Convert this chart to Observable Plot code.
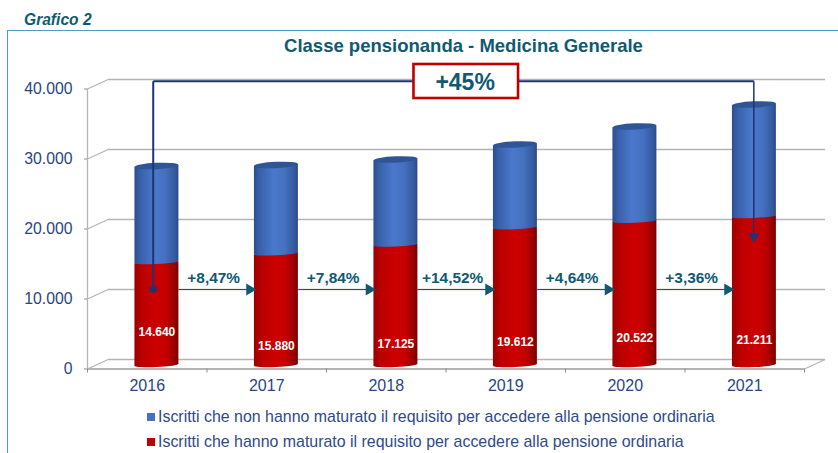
<!DOCTYPE html>
<html lang="it">
<head>
<meta charset="utf-8">
<script src="https://cdn.jsdelivr.net/npm/d3@7"></script>
<script src="https://cdn.jsdelivr.net/npm/@observablehq/plot@0.6"></script>
<style>
  html,body{margin:0;padding:0;background:#fff;overflow:hidden;font-family:"Liberation Sans",Arial,sans-serif}
  #page{position:relative;width:838px;height:453px;overflow:hidden}
  #frame{position:absolute;left:7px;top:30px;width:900px;height:600px;border:1.5px solid #4f9dbf;box-sizing:border-box}
  #kicker{position:absolute;left:24px;top:11px;font:italic bold 15.6px "Liberation Sans",Arial,sans-serif;color:#0f5a73}
  #title{position:absolute;left:0;width:927px;top:35px;text-align:center;font:bold 18.5px "Liberation Sans",Arial,sans-serif;color:#0f5a73}
  #chart{position:absolute;left:0;top:58px}
  #chart svg{display:block;background:transparent}
  .leg{position:absolute;left:147px;height:25px;line-height:25px;font-size:15.93px;color:#2f4a8a;white-space:nowrap}
  .leg i{position:absolute;left:0;top:8.5px;width:8px;height:8px}
  .leg span{margin-left:11px}
</style>
</head>
<body>
<div id="page">
  <div id="frame"></div>
  <div id="kicker">Grafico 2</div>
  <div id="title">Classe pensionanda - Medicina Generale</div>
  <div id="chart"></div>
  <div class="leg" style="top:404px"><i style="background:#4472c4"></i><span>Iscritti che non hanno maturato il requisito per accedere alla pensione ordinaria</span></div>
  <div class="leg" style="top:429px"><i style="background:#c00000"></i><span>Iscritti che hanno maturato il requisito per accedere alla pensione ordinaria</span></div>
</div>
<script>
const years = [2016, 2017, 2018, 2019, 2020, 2021];
const reached = [14640, 15880, 17125, 19612, 20522, 21211];
const totals = [28390, 28530, 29310, 31460, 34030, 37170];
const growth = ["+8,47%", "+7,84%", "+14,52%", "+4,64%", "+3,36%"];
const yTicks = [0, 10000, 20000, 30000, 40000];
const totalGrowth = "+45%";
// heights (in value units) at which the white labels sit inside the red cylinders
const labelLevels = [5214, 3257, 3543, 3829, 4357, 4114];

// pseudo-3D depth of the chart box, in scale units
const xMin = 2015.5, xMax = 2021.5;
const depthX = 0.172, depthY = 1357;
const barDX = depthX * 0.47, barDY = depthY * 0.4;
const halfBar = 0.184;
const capPad = 430, seamPad = 250;
const ink = "#2b4586", teal = "#0f5a73", navy = "#1f3470", grid = "#b4b4b4";

const itFormat = d3.formatLocale({decimal: ",", thousands: ".", grouping: [3], currency: ["", ""]}).format(",");
const rows = years.map((year, i) => ({year, reached: reached[i], total: totals[i], level: labelLevels[i]}));
const steps = growth.map((label, i) => ({label, from: years[i], to: years[i + 1]}));
const boundaries = d3.range(xMin, xMax + 0.5, 1);

const tiltDeg = -2.6;
function tilt(index, scales, values, dims, ctx, next) {
  const g = next(index, scales, values, dims, ctx);
  g.querySelectorAll("rect").forEach(r => {
    const cx = +r.getAttribute("x") + r.getAttribute("width") / 2;
    const cy = +r.getAttribute("y") + r.getAttribute("height") / 2;
    r.setAttribute("transform", `rotate(${tiltDeg} ${cx} ${cy})`);
  });
  return g;
}
function shear(index, scales, values, dims, ctx, next) {
  const g = next(index, scales, values, dims, ctx);
  const k = Math.tan(tiltDeg * Math.PI / 180);
  g.querySelectorAll("rect").forEach(r => {
    const cx = +r.getAttribute("x") + r.getAttribute("width") / 2;
    r.setAttribute("transform", `matrix(1 ${k} 0 1 0 ${-k * cx})`);
  });
  return g;
}
const bx = d => d.year + barDX;
const ellipse = (cy, pad, fill) => Plot.rect(rows, {
  x1: d => bx(d) - halfBar, x2: d => bx(d) + halfBar,
  y1: d => cy(d) - pad, y2: d => cy(d) + pad,
  rx: "50%", ry: "50%", fill, render: tilt
});

const plot = Plot.plot({
  width: 838, height: 342,
  marginLeft: 87, marginRight: 34, marginTop: 30.5, marginBottom: 31.5,
  x: {domain: [xMin, xMax]},
  y: {domain: [0, 40000]},
  style: {fontFamily: '"Liberation Sans",Arial,sans-serif', background: "transparent", overflow: "visible"},
  marks: [
    // back wall
    Plot.link(yTicks, {x1: xMin + depthX, x2: xMax + depthX, y1: d => d + depthY, y2: d => d + depthY, stroke: grid, strokeWidth: 1.3}),
    Plot.link(yTicks, {x1: xMin, x2: xMin + depthX, y1: d => d, y2: d => d + depthY, stroke: grid, strokeWidth: 1.2}),
    Plot.link([0], {x1: xMax, x2: xMax + depthX, y1: 0, y2: depthY, stroke: grid, strokeWidth: 1.2}),
    // front axes
    Plot.ruleX([xMin], {y1: 0, y2: 40000, stroke: grid, strokeWidth: 1.3}),
    Plot.ruleY([0], {x1: xMin, x2: xMax, stroke: grid, strokeWidth: 2}),
    Plot.axisY({ticks: yTicks, tickSize: 3, tickPadding: 12, tickFormat: itFormat, stroke: "#8c8c8c", fill: ink, fontSize: 15.8, label: null, marginLeft: 87}),
    Plot.axisX({ticks: boundaries, tickSize: 4, tickFormat: () => "", stroke: "#8c8c8c", label: null}),
    Plot.axisX({ticks: years, tickSize: 0, tickPadding: 11, tickFormat: d => String(d), fill: ink, fontSize: 16, label: null}),
    // cylinders
    ellipse(() => barDY, capPad * 0.8, "url(#redGrad)"),
    Plot.rect(rows, {x1: d => bx(d) - halfBar, x2: d => bx(d) + halfBar, y1: barDY, y2: d => d.reached + barDY, fill: "url(#redGrad)", render: shear}),
    Plot.rect(rows, {x1: d => bx(d) - halfBar, x2: d => bx(d) + halfBar, y1: d => d.reached + barDY, y2: d => d.total + barDY, fill: "url(#blueGrad)", render: shear}),
    ellipse(d => d.reached + barDY, seamPad, "url(#blueGrad)"),
    ellipse(d => d.total + barDY, capPad * 1.05, "#2f5597"),
    // growth arrows
    Plot.link(steps, {x1: d => d.from + barDX + halfBar, x2: d => d.to + barDX - halfBar - 0.04, y1: 10000 + depthY, y2: 10000 + depthY, stroke: teal, strokeWidth: 1.2}),
    Plot.dot(steps, {x: d => d.to + barDX - halfBar - 0.04, y: 10000 + depthY, symbol: "triangle", rotate: 90, r: 4.4, fill: teal, stroke: "none"}),
    Plot.text(steps, {x: d => (d.from + d.to) / 2 + barDX, y: 10000 + depthY, dx: -3, dy: -11, text: "label", fill: teal, fontWeight: "bold", fontSize: 15.4}),
    // value labels
    Plot.text(rows, {x: bx, y: "level", text: d => itFormat(d.reached), fill: "#fff", fontWeight: "bold", fontSize: 12}),
    // overall bracket
    Plot.link([0], {x1: 2016.05, x2: 2021.076, y1: 41114, y2: 41114, stroke: navy, strokeWidth: 2}),
    Plot.link([0], {x1: 2016.05, x2: 2016.05, y1: 41114, y2: 11400, stroke: navy, strokeWidth: 2}),
    Plot.link([0], {x1: 2021.076, x2: 2021.076, y1: 41114, y2: 18900, stroke: navy, strokeWidth: 1.5}),
    Plot.dot([0], {x: 2016.05, y: 11400, r: 3.8, fill: navy, stroke: "none"}),
    Plot.dot([0], {x: 2021.076, y: 18900, symbol: "triangle", rotate: 180, r: 4, fill: navy, stroke: "none"}),
    Plot.rect([0], {x1: 2018.232, x2: 2019.107, y1: 38640, y2: 43500, fill: "#fff", stroke: "#c00000", strokeWidth: 2.6}),
    Plot.text([totalGrowth], {x: 2018.66, y: 40930, text: d => d, fill: teal, fontWeight: "bold", fontSize: 23})
  ]
});

const defs = d3.create("svg:defs");
const grad = (id, stops) => {
  const g = defs.append("linearGradient").attr("id", id).attr("x1", 0).attr("x2", 1).attr("y1", 0).attr("y2", 0);
  stops.forEach(([o, c]) => g.append("stop").attr("offset", o).attr("stop-color", c));
};
grad("blueGrad", [[0, "#2e4f8e"], [0.15, "#3a62ad"], [0.45, "#4a78cc"], [0.7, "#4570bf"], [0.92, "#345a9f"], [1, "#2c4a84"]]);
grad("redGrad", [[0, "#9a0000"], [0.18, "#bb0000"], [0.5, "#cc0000"], [0.72, "#c40000"], [0.92, "#980000"], [1, "#760000"]]);
plot.prepend(defs.node());
document.getElementById("chart").appendChild(plot);
</script>
</body>
</html>
